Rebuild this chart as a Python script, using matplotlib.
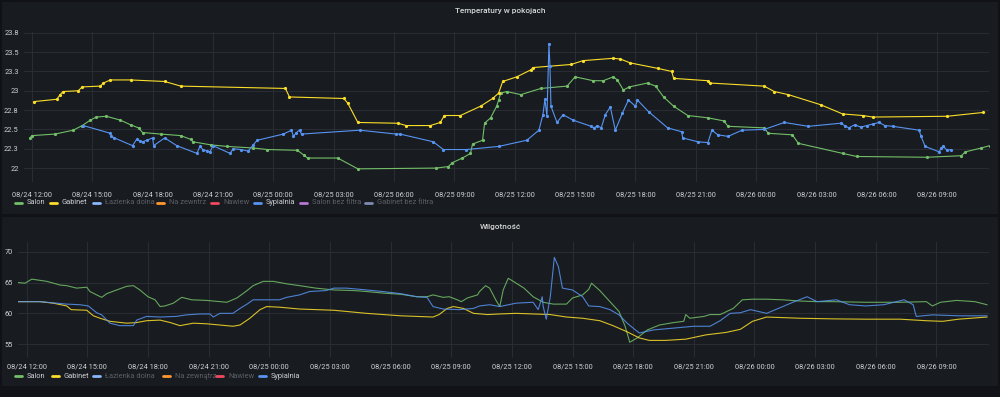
import numpy as np
import pandas as pd
import matplotlib
matplotlib.use("Agg")
import matplotlib.pyplot as plt
import matplotlib.dates as mdates
from matplotlib.lines import Line2D
from matplotlib.patches import Rectangle

plt.rcParams['font.family'] = ['Roboto', 'DejaVu Sans']

# ---------------- data ----------------
START = pd.Timestamp("2024-08-24 12:00")
RANGE_H = (-0.42, 47.6)

# Temperatures (hours since 08/24 12:00, degC)
temp_salon_h = [-0.1, 0.0, 1.15, 2.05, 2.5, 2.9, 3.2, 3.7, 4.4, 4.9, 5.3, 5.5, 6.4, 7.4, 7.9, 8.0,
                8.9, 9.7, 11.0, 11.7, 13.2, 13.5, 13.7, 15.2, 16.2, 20.1, 20.7, 20.9, 21.4, 21.8,
                21.9, 22.4, 22.5, 22.8, 23.1, 23.2, 23.3, 23.6, 24.3, 25.3, 26.6, 27.0, 27.9, 28.4,
                28.9, 29.1, 29.4, 29.7, 30.6, 31.0, 31.4, 31.9, 32.6, 33.6, 34.4, 34.6, 36.4, 36.6,
                37.8, 38.1, 40.3, 41.0, 44.5, 46.2, 46.4, 47.2, 47.6]
temp_salon_v = [22.39, 22.42, 22.44, 22.49, 22.55, 22.62, 22.66, 22.67, 22.62, 22.56, 22.52, 22.46,
                22.44, 22.42, 22.37, 22.34, 22.30, 22.28, 22.26, 22.24, 22.23, 22.17, 22.13, 22.13,
                21.99, 22.00, 22.02, 22.07, 22.13, 22.19, 22.31, 22.36, 22.58, 22.65, 22.80, 22.88,
                22.97, 22.99, 22.95, 23.03, 23.06, 23.18, 23.13, 23.13, 23.18, 23.14, 23.01, 23.05,
                23.10, 23.06, 22.92, 22.80, 22.68, 22.65, 22.61, 22.54, 22.52, 22.45, 22.43, 22.32,
                22.19, 22.15, 22.14, 22.16, 22.21, 22.26, 22.29]

temp_gabinet_h = [0.1, 1.24, 1.4, 1.55, 2.3, 2.5, 3.4, 3.55, 3.9, 4.9, 6.6, 7.4, 12.6, 12.8, 15.5,
                  15.7, 16.2, 18.2, 18.6, 19.8, 20.3, 20.5, 21.3, 22.3, 22.9, 23.2, 23.4, 24.1, 24.8,
                  24.9, 26.8, 27.4, 28.9, 29.25, 29.75, 31.1, 31.8, 31.9, 33.6, 33.7, 36.4, 36.9,
                  37.6, 39.2, 40.3, 41.3, 41.8, 45.5, 47.3]
temp_gabinet_v = [22.86, 22.89, 22.95, 22.99, 23.00, 23.05, 23.06, 23.10, 23.14, 23.14, 23.12, 23.06,
                  23.03, 22.92, 22.90, 22.84, 22.59, 22.58, 22.55, 22.55, 22.59, 22.68, 22.68, 22.80,
                  22.90, 22.97, 23.12, 23.18, 23.27, 23.30, 23.34, 23.39, 23.42, 23.41, 23.36, 23.29,
                  23.25, 23.16, 23.13, 23.10, 23.06, 22.99, 22.95, 22.82, 22.70, 22.68, 22.66, 22.67,
                  22.72]

temp_sypialnia_h = [2.55, 3.9, 3.95, 4.1, 5.0, 5.2, 5.35, 5.5, 5.7, 6.0,
                    6.05, 6.6, 7.2, 8.2, 8.35, 8.5, 8.7, 8.85, 9.0, 9.85,
                    10.0, 10.4, 10.75, 11.0, 11.2, 12.5, 12.9, 13.0, 13.15, 13.3,
                    13.4, 16.3, 18.1, 18.3, 19.95, 20.45, 21.6, 23.2, 24.6, 25.2,
                    25.4, 25.5, 25.6, 25.7, 25.75, 25.8, 26.1, 26.4, 26.9, 27.8,
                    27.95, 28.1, 28.3, 28.5, 28.75, 29.0, 29.35, 29.65, 30.0, 30.1,
                    30.65, 31.6, 32.3, 32.35, 33.1, 33.6, 33.8, 34.1, 34.6, 35.3,
                    36.4, 37.4, 38.6, 40.2, 40.4, 40.6, 40.9, 41.2, 41.5, 41.8,
                    42.1, 42.4, 42.8, 44.1, 44.2, 44.4, 45.1, 45.2, 45.3, 45.5,
                    45.7]
temp_sypialnia_v = [22.55, 22.45, 22.41, 22.39, 22.29, 22.37, 22.35, 22.34, 22.36, 22.39,
                    22.29, 22.39, 22.29, 22.19, 22.28, 22.24, 22.22, 22.21, 22.29, 22.19,
                    22.25, 22.24, 22.22, 22.30, 22.36, 22.44, 22.49, 22.41, 22.46, 22.49,
                    22.44, 22.49, 22.44, 22.44, 22.34, 22.24, 22.24, 22.28, 22.36, 22.49,
                    22.69, 22.89, 22.67, 23.61, 23.32, 22.80, 22.59, 22.69, 22.62, 22.54,
                    22.52, 22.55, 22.52, 22.69, 22.79, 22.49, 22.71, 22.88, 22.80, 22.88,
                    22.73, 22.52, 22.47, 22.39, 22.34, 22.33, 22.49, 22.43, 22.41, 22.49,
                    22.50, 22.59, 22.54, 22.58, 22.55, 22.52, 22.56, 22.53, 22.55, 22.57,
                    22.59, 22.55, 22.54, 22.49, 22.41, 22.28, 22.21, 22.26, 22.28, 22.23,
                    22.24]

# Humidity (hours since 08/24 12:00, %)
hum_salon_h = [-0.41, -0.08, 0.25, 1.0, 1.65, 1.98, 2.47, 2.97, 3.13, 3.46,
               3.71, 3.96, 4.45, 4.95, 5.28, 5.6, 6.0, 6.35, 6.6, 6.84,
               7.25, 7.67, 8.16, 8.9, 9.56, 9.9, 10.4, 10.9, 11.2, 11.7,
               12.2, 12.86, 13.5, 14.3, 15.2, 16.2, 16.8, 17.6, 18.5, 19.3,
               19.8, 20.1, 20.6, 20.9, 21.3, 21.5, 21.8, 22.3, 22.4, 22.7,
               22.9, 23.2, 23.4, 23.57, 23.82, 24.07, 24.6, 25.05, 25.55, 26.05,
               26.7, 27.0, 27.5, 27.8, 27.94, 28.35, 28.85, 29.3, 29.6, 29.83,
               30.2, 30.7, 31.3, 32.0, 32.5, 32.6, 32.8, 33.5, 33.8, 34.3,
               34.95, 35.4, 35.9, 36.6, 37.4, 38.25, 39.1, 39.9, 41.5, 43.2,
               44.5, 44.8, 45.2, 46.0, 46.9, 47.5]
hum_salon_v = [65.0, 64.9, 65.56, 65.2, 64.6, 64.5, 64.1, 64.25, 63.55, 63.0,
               62.6, 63.2, 63.8, 64.4, 64.5, 63.8, 62.7, 62.2, 61.1, 61.2,
               61.65, 62.6, 62.2, 62.1, 61.9, 61.8, 62.5, 63.7, 64.5, 65.2,
               65.2, 64.8, 64.5, 64.1, 63.8, 63.7, 63.55, 63.3, 63.1, 62.7,
               62.7, 63.0, 62.6, 62.7, 62.2, 61.9, 62.5, 63.0, 63.55, 64.5,
               64.1, 62.2, 61.1, 63.8, 65.7, 65.2, 64.1, 62.7, 61.8, 61.5,
               61.5, 62.5, 63.0, 63.9, 64.9, 63.7, 61.9, 60.3, 57.9, 55.3,
               56.0, 57.3, 58.1, 58.5, 58.7, 59.8, 59.2, 59.5, 59.8, 59.8,
               60.8, 62.2, 62.3, 62.3, 62.2, 62.0, 61.9, 61.9, 61.8, 61.8,
               61.9, 61.2, 61.8, 62.1, 61.9, 61.4]

hum_gabinet_h = [-0.41, 0.66, 1.32, 1.98, 2.2, 2.97, 3.3, 3.63, 4.12, 4.95,
                 5.44, 5.93, 6.6, 7.1, 7.58, 8.24, 8.9, 9.56, 10.2, 10.55,
                 11.04, 11.54, 11.87, 12.5, 13.5, 15.2, 16.8, 18.5, 20.1, 20.4,
                 20.8, 21.1, 21.6, 22.1, 22.8, 23.4, 24.2, 25.05, 25.9, 26.7,
                 27.5, 28.35, 29.0, 29.7, 30.3, 30.8, 31.6, 32.6, 33.6, 34.6,
                 35.3, 35.9, 36.6, 38.25, 39.9, 41.5, 43.2, 44.5, 45.3, 46.1,
                 47.5]
hum_gabinet_v = [61.9, 61.9, 61.65, 61.2, 60.6, 60.5, 59.6, 59.2, 58.7, 58.4,
                 58.5, 58.8, 58.9, 58.5, 58.0, 58.4, 58.3, 58.1, 57.9, 58.1,
                 59.2, 60.6, 61.1, 61.0, 60.7, 60.5, 60.0, 59.6, 59.4, 59.8,
                 60.8, 61.1, 60.8, 60.0, 59.8, 59.9, 60.0, 59.9, 59.8, 59.4,
                 59.2, 58.8, 58.0, 57.0, 56.0, 55.6, 55.6, 55.8, 56.5, 56.9,
                 57.4, 58.7, 59.4, 59.2, 59.1, 59.05, 59.05, 58.8, 58.7, 59.05,
                 59.4]

hum_sypialnia_h = [-0.41, 0.66, 1.98, 2.64, 3.05, 3.46, 3.71, 4.12, 4.6, 5.28,
                   5.44, 5.93, 6.6, 7.4, 7.9, 8.57, 9.07, 9.23, 9.56, 10.2,
                   10.55, 10.9, 11.2, 11.87, 12.5, 12.86, 13.5, 14.0, 14.8, 15.2,
                   15.8, 16.5, 17.6, 18.5, 19.3, 19.8, 20.1, 20.6, 21.4, 22.1,
                   22.4, 22.9, 23.4, 24.2, 25.05, 25.3, 25.5, 25.55, 25.7, 25.9,
                   26.1, 26.3, 26.5, 27.0, 27.5, 27.8, 28.35, 28.85, 29.3, 29.7,
                   30.3, 31.0, 32.0, 33.0, 33.8, 34.3, 34.8, 35.3, 35.8, 36.6,
                   37.4, 37.9, 38.6, 39.1, 40.05, 40.7, 41.5, 42.4, 43.4, 43.85,
                   44.0, 44.8, 46.1, 47.5]
hum_sypialnia_v = [61.9, 61.9, 61.5, 61.4, 61.2, 60.1, 59.75, 58.4, 58.0, 58.0,
                   58.9, 59.5, 59.4, 59.5, 59.75, 59.9, 59.9, 59.4, 60.0, 60.0,
                   60.8, 61.5, 62.2, 62.2, 62.2, 62.6, 63.0, 63.55, 63.7, 64.1,
                   64.1, 63.9, 63.55, 63.2, 62.7, 62.6, 61.1, 60.7, 60.6, 60.8,
                   61.2, 61.4, 61.1, 61.65, 61.8, 60.6, 62.7, 61.1, 59.05, 62.7,
                   69.1, 67.6, 64.1, 63.8, 62.7, 61.2, 61.1, 60.6, 59.75, 58.4,
                   56.8, 57.3, 57.6, 57.9, 57.9, 58.8, 60.0, 60.1, 60.6, 60.0,
                   61.1, 61.8, 62.7, 61.9, 62.2, 61.4, 61.2, 61.4, 62.2, 61.4,
                   59.5, 59.75, 59.6, 59.6]

temp_ticks = [22.0, 22.25, 22.5, 22.75, 23.0, 23.25, 23.5, 23.75]
temp_tick_labels = ["22", "22.3", "22.5", "22.8", "23", "23.3", "23.5", "23.8"]
hum_ticks = [55, 60, 65, 70]
hum_tick_labels = ["55", "60", "65", "70"]

legend_top = ["Salon", "Gabinet", "Łazienka dolna", "Na zewntrz", "Nawiew", "Sypialnia",
              "Salon bez filtra", "Gabinet bez filtra"]
legend_top_active = [True, True, False, False, False, True, False, False]
legend_bottom = ["Salon", "Gabinet", "Łazienka dolna", "Na zewnątrz", "Nawiew", "Sypialnia"]
legend_bottom_active = [True, True, False, False, False, True]

# ---------------- style ----------------
W, H = 1000, 397
C_GREEN, C_YELLOW, C_BLUE = "#73BF69", "#FADE2A", "#5794F2"
legend_colors = ["#73BF69", "#FADE2A", "#8AB8FF", "#FF9830", "#F2495C", "#5794F2",
                 "#B877D9", "#7f8bb0"]
BG_OUT, BG_PANEL = "#111217", "#181b1f"
GRID = "#2a2d33"
TXT = "#cdd0d5"
TXT_DIM = "#5b5e65"
FS = 5.3


def to_time(hours):
    return START + pd.to_timedelta(np.asarray(hours, dtype=float), unit="h")


fig = plt.figure(figsize=(W / 100, H / 100), dpi=100)
fig.patch.set_facecolor(BG_OUT)


def px_rect(x0, y0, x1, y1, color):
    fig.add_artist(Rectangle((x0 / W, 1 - y1 / H), (x1 - x0) / W, (y1 - y0) / H,
                             transform=fig.transFigure, facecolor=color, edgecolor="none",
                             zorder=-10))


px_rect(2, 2, 998, 214, BG_PANEL)
px_rect(2, 217, 998, 386, BG_PANEL)


def make_ax(x0, y0, x1, y1):
    ax = fig.add_axes([x0 / W, 1 - y1 / H, (x1 - x0) / W, (y1 - y0) / H])
    ax.set_facecolor("none")
    for s in ax.spines.values():
        s.set_visible(False)
    ax.grid(True, color=GRID, lw=0.7)
    ax.set_axisbelow(True)
    ax.set_xlim(to_time([RANGE_H[0]])[0], to_time([RANGE_H[1]])[0])
    ax.xaxis.set_major_locator(mdates.HourLocator(byhour=[0, 3, 6, 9, 12, 15, 18, 21]))
    ax.xaxis.set_major_formatter(mdates.DateFormatter("%m/%d %H:%M"))
    ax.tick_params(length=0, labelsize=FS, colors=TXT)
    return ax


# top panel
ax1 = make_ax(23.5, 32, 989.5, 182)
ax1.set_ylim(21.82, 23.76)
ax1.set_yticks(temp_ticks)
ax1.set_yticklabels(temp_tick_labels)
ax1.tick_params(axis="x", pad=6.5)
ax1.tick_params(axis="y", pad=3.5)
for hh, vv, col in [(temp_salon_h, temp_salon_v, C_GREEN),
                    (temp_gabinet_h, temp_gabinet_v, C_YELLOW),
                    (temp_sypialnia_h, temp_sypialnia_v, C_BLUE)]:
    ax1.plot(to_time(hh), vv, color=col, lw=0.8, marker="o", ms=2.3, mew=0)

# bottom panel
ax2 = make_ax(18.2, 242, 989, 357)
ax2.set_ylim(52.9, 71.6)
ax2.set_yticks(hum_ticks)
ax2.set_yticklabels(hum_tick_labels)
ax2.tick_params(axis="x", pad=4.5)
ax2.tick_params(axis="y", pad=4)
for hh, vv, col in [(hum_salon_h, hum_salon_v, C_GREEN),
                    (hum_gabinet_h, hum_gabinet_v, C_YELLOW),
                    (hum_sypialnia_h, hum_sypialnia_v, C_BLUE)]:
    ax2.plot(to_time(hh), vv, color=col, lw=0.8, alpha=0.85)

# titles
fig.text(500 / W, 1 - 11 / H, "Temperatury w pokojach", ha="center", va="center",
         fontsize=5.9, color="#d8d9da", fontweight="medium")
fig.text(500 / W, 1 - 227 / H, "Wilgotność", ha="center", va="center",
         fontsize=5.9, color="#d8d9da", fontweight="medium")


def draw_legend(names, active, xs, y):
    for name, act, col, x in zip(names, active, legend_colors, xs):
        fig.add_artist(Line2D([x / W, (x + 7) / W], [1 - y / H] * 2, transform=fig.transFigure,
                              color=col, lw=2.0, solid_capstyle="round"))
        fig.text((x + 12) / W, 1 - y / H, name, ha="left", va="center", fontsize=FS,
                 color=TXT if act else TXT_DIM)


draw_legend(legend_top, legend_top_active,
            [15, 50, 93, 157, 211, 254, 300, 365], 203)
draw_legend(legend_bottom, legend_bottom_active,
            [15, 52, 93, 163, 216, 259], 376)

fig.savefig("out.png", dpi=100, facecolor=fig.get_facecolor())
